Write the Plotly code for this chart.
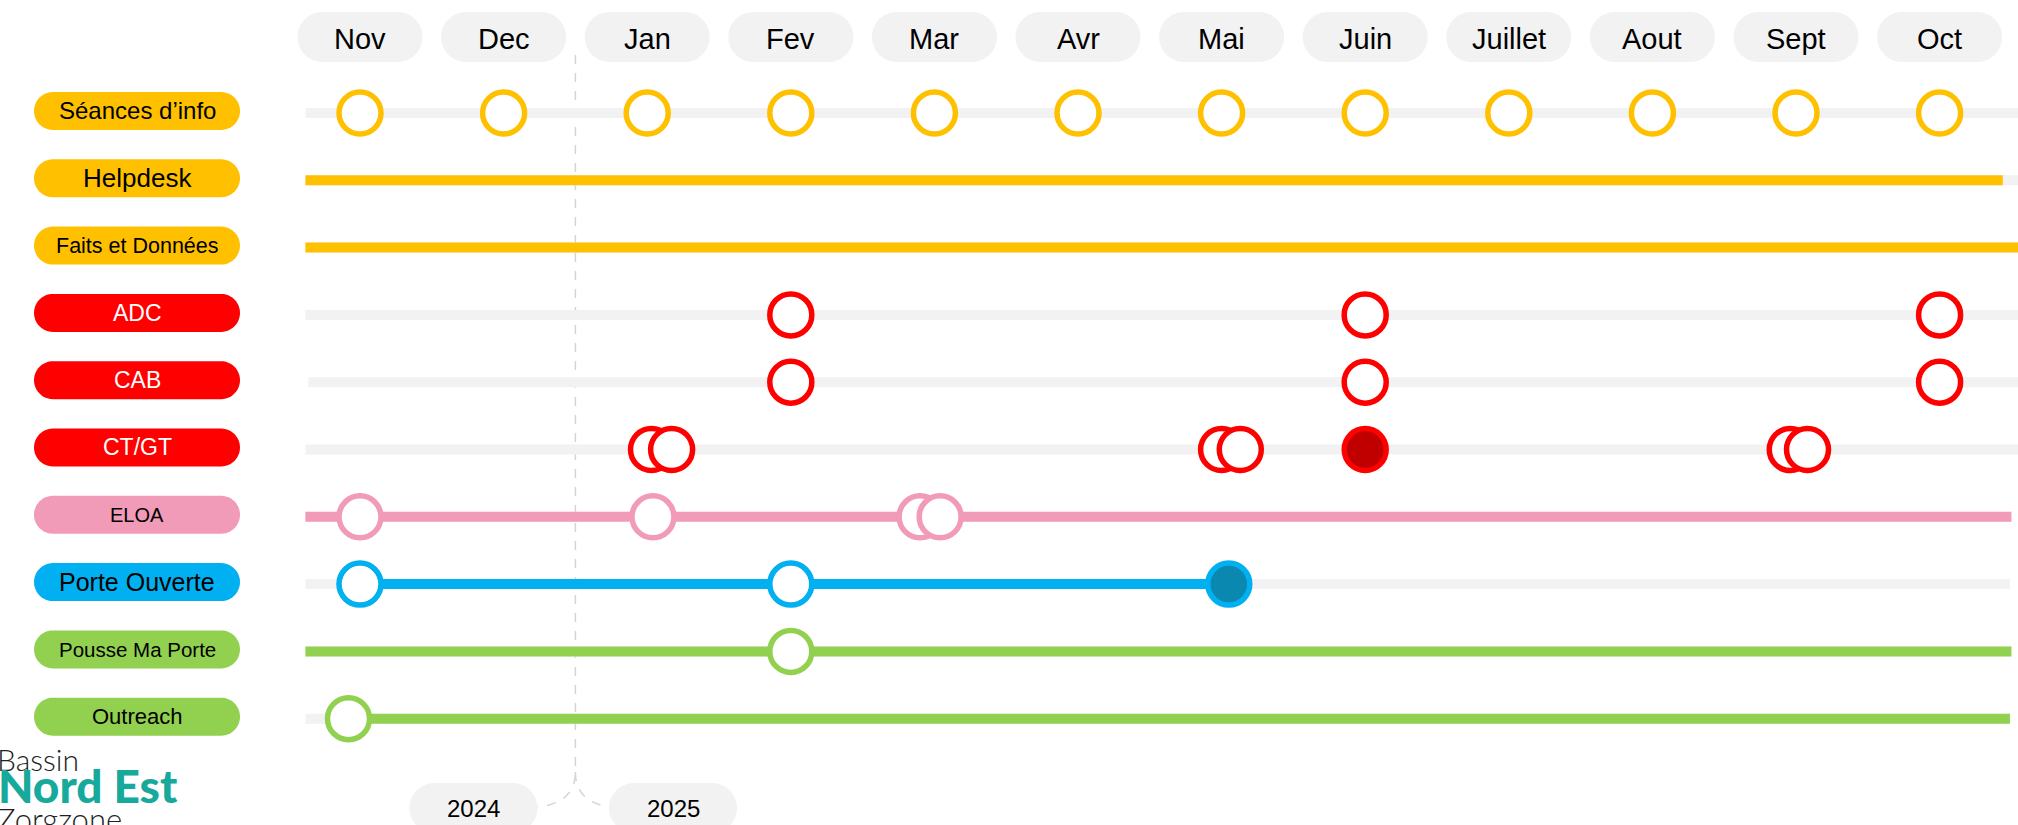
import math
import plotly.graph_objects as go

# ---------------- data ----------------
MONTHS = ["Nov", "Dec", "Jan", "Fev", "Mar", "Avr", "Mai", "Juin", "Juillet", "Aout", "Sept", "Oct"]
YEARS = ["2024", "2025"]

ROWS = ["Séances d’info", "Helpdesk", "Faits et Données", "ADC", "CAB", "CT/GT",
        "ELOA", "Porte Ouverte", "Pousse Ma Porte", "Outreach"]
ROW_COLORS = ["#FFC000", "#FFC000", "#FFC000", "#FF0000", "#FF0000", "#FF0000",
              "#F19BB8", "#00B0F0", "#92D050", "#92D050"]
ROW_TEXT = ["black", "black", "black", "white", "white", "white",
            "black", "black", "black", "black"]
ROW_FONT = [24, 26, 21.5, 23, 23, 23, 20, 25, 20.5, 22]
FILL_DARK = {"CT/GT": "#C00000", "Porte Ouverte": "#0B88B0"}

# events: month position (index in MONTHS, fractional = shifted), filled?
EVENTS = {
    "Séances d’info": [(0, False), (1, False), (2, False), (3, False), (4, False), (5, False),
                       (6, False), (7, False), (8, False), (9, False), (10, False), (11, False)],
    "ADC": [(3, False), (7, False), (11, False)],
    "CAB": [(3, False), (7, False), (11, False)],
    "CT/GT": [(2.03, False), (2.17, False), (6.0, False), (6.13, False), (7.0, True),
              (9.96, False), (10.08, False)],
    "ELOA": [(0, False), (2.04, False), (3.9, False), (4.04, False)],
    "Porte Ouverte": [(0, False), (3.0, False), (6.05, True)],
    "Pousse Ma Porte": [(3.0, False)],
    "Outreach": [(-0.08, False)],
}
# background (grey) track spans and coloured activity spans (month index units)
TRACKS = {
    "Séances d’info": (-0.38, 11.7), "Helpdesk": (-0.38, 11.7), "Faits et Données": (-0.38, 11.7),
    "ADC": (-0.38, 11.7), "CAB": (-0.36, 11.7), "CT/GT": (-0.38, 11.7),
    "ELOA": (-0.38, 11.5), "Porte Ouverte": (-0.38, 11.49), "Pousse Ma Porte": (-0.38, 11.5),
    "Outreach": (-0.38, 11.49),
}
SPANS = {
    "Helpdesk": (-0.38, 11.44), "Faits et Données": (-0.38, 11.7), "ELOA": (-0.38, 11.5),
    "Porte Ouverte": (0.0, 6.05), "Pousse Ma Porte": (-0.38, 11.5), "Outreach": (-0.08, 11.49),
}
YEAR_POS = [0.79, 2.18]
YEAR_SPLIT = 1.5

# ---------------- layout constants ----------------
W, H = 2018, 825
X0_PX, DX = 360.0, 143.6
Y0_PX, DY = 113.0, 67.3
XR = [-X0_PX / DX, (W - X0_PX) / DX]
YR = [(H - Y0_PX) / DY, -Y0_PX / DY]
GREY = "#F2F2F2"
FONT = "Liberation Sans, Arial, sans-serif"


def pfy(py):
    return 1 - py / H


def pill_path(w, h, n=24):
    r = h / 2.0
    c = w / 2.0 - r
    pts = []
    for k in range(n + 1):
        a = -math.pi / 2 + math.pi * k / n
        pts.append((c + r * math.cos(a), r * math.sin(a)))
    for k in range(n + 1):
        a = math.pi / 2 + math.pi * k / n
        pts.append((-c + r * math.cos(a), r * math.sin(a)))
    return "M " + " L ".join(f"{x:.2f},{y:.2f}" for x, y in pts) + " Z"


fig = go.Figure()
shapes = []
annotations = []

# grey tracks
for j, row in enumerate(ROWS):
    a, b = TRACKS[row]
    fig.add_trace(go.Scatter(x=[a, b], y=[j, j], mode="lines",
                             line=dict(color=GREY, width=10), hoverinfo="skip", showlegend=False))
# coloured spans
for j, row in enumerate(ROWS):
    if row in SPANS:
        a, b = SPANS[row]
        fig.add_trace(go.Scatter(x=[a, b], y=[j, j], mode="lines",
                                 line=dict(color=ROW_COLORS[j], width=10),
                                 hoverinfo="skip", showlegend=False))
# event markers
for j, row in enumerate(ROWS):
    for pos, filled in EVENTS.get(row, []):
        fig.add_trace(go.Scatter(
            x=[pos], y=[j], mode="markers",
            marker=dict(symbol="circle", size=42,
                        color=FILL_DARK.get(row, "white") if filled else "white",
                        line=dict(color=ROW_COLORS[j], width=5.5)),
            hoverinfo="skip", showlegend=False))

# row label pills
LABEL_X = (137 - X0_PX) / DX
for j, row in enumerate(ROWS):
    shapes.append(dict(type="path", xref="x", yref="y", xsizemode="pixel", ysizemode="pixel",
                       xanchor=LABEL_X, yanchor=j - 0.03, path=pill_path(206, 38),
                       fillcolor=ROW_COLORS[j], line=dict(width=0), layer="below"))
    annotations.append(dict(x=LABEL_X, y=j - 0.03, xref="x", yref="y", text=row, showarrow=False,
                            font=dict(family=FONT, size=ROW_FONT[j], color=ROW_TEXT[j]),
                            xanchor="center", yanchor="middle"))

# month pills
for i, m in enumerate(MONTHS):
    shapes.append(dict(type="path", xref="x", yref="paper", xsizemode="pixel", ysizemode="pixel",
                       xanchor=i, yanchor=pfy(37), path=pill_path(125, 50),
                       fillcolor=GREY, line=dict(width=0), layer="below"))
    annotations.append(dict(x=i, y=pfy(39), xref="x", yref="paper", text=m, showarrow=False,
                            font=dict(family=FONT, size=29, color="black"),
                            xanchor="center", yanchor="middle"))

# year split dashed line with bracket
shapes.append(dict(type="path", xref="x", yref="paper", xsizemode="pixel", xanchor=YEAR_SPLIT,
                   path=f"M 0,{pfy(55):.4f} L 0,{pfy(772):.4f} Q 0,{pfy(803):.4f} -38,{pfy(807):.4f}",
                   line=dict(color="#D4D4D4", width=1.5, dash="dash"), layer="below"))
shapes.append(dict(type="path", xref="x", yref="paper", xsizemode="pixel", xanchor=YEAR_SPLIT,
                   path=f"M 0,{pfy(772):.4f} Q 0,{pfy(803):.4f} 36,{pfy(807):.4f}",
                   line=dict(color="#D4D4D4", width=1.5, dash="dash"), layer="below"))

# year pills
for yp, yr in zip(YEAR_POS, YEARS):
    shapes.append(dict(type="path", xref="x", yref="paper", xsizemode="pixel", ysizemode="pixel",
                       xanchor=yp, yanchor=pfy(808), path=pill_path(128, 50),
                       fillcolor=GREY, line=dict(width=0), layer="below"))
    annotations.append(dict(x=yp, y=pfy(808), xref="x", yref="paper", text=yr, showarrow=False,
                            font=dict(family=FONT, size=24, color="black"),
                            xanchor="center", yanchor="middle"))

# logo text
annotations.append(dict(x=-5 / W, y=pfy(759), xref="paper", yref="paper", text="Bassin",
                        showarrow=False, xanchor="left", yanchor="middle",
                        font=dict(family="Lato, sans-serif", size=30, color="#222222", weight=300)))
annotations.append(dict(x=-4 / W, y=pfy(785), xref="paper", yref="paper", text="Nord Est",
                        showarrow=False, xanchor="left", yanchor="middle",
                        font=dict(family="Lato, sans-serif", size=46, color="#17A99B", weight=900)))
annotations.append(dict(x=-5 / W, y=pfy(819), xref="paper", yref="paper", text="Zorgzone",
                        showarrow=False, xanchor="left", yanchor="middle",
                        font=dict(family="Lato, sans-serif", size=31, color="#222222", weight=300)))

fig.update_layout(
    width=W, height=H, margin=dict(l=0, r=0, t=0, b=0),
    paper_bgcolor="white", plot_bgcolor="white",
    xaxis=dict(range=XR, visible=False, fixedrange=True),
    yaxis=dict(range=YR, visible=False, fixedrange=True),
    shapes=shapes, annotations=annotations, showlegend=False,
)
fig.write_html("out.html", config={"displayModeBar": False},
               post_script="document.body.style.margin='0px';document.body.style.overflow='hidden';")
